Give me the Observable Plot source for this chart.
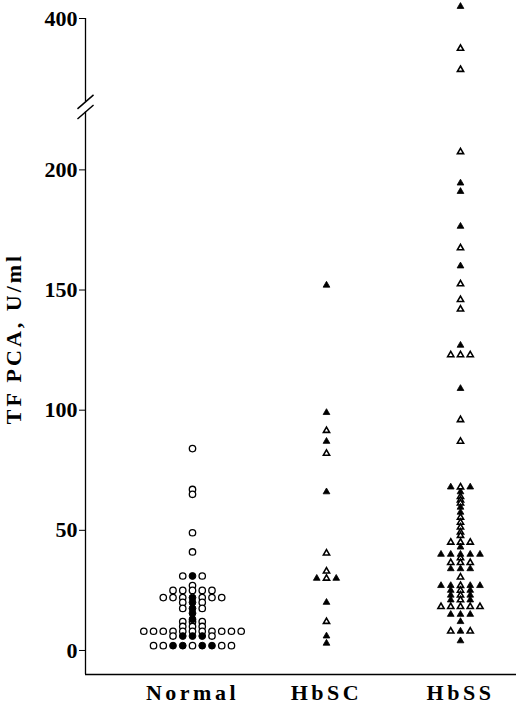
<!DOCTYPE html>
<html>
<head>
<meta charset="utf-8">
<script src="https://cdn.jsdelivr.net/npm/d3@7"></script>
<script src="https://cdn.jsdelivr.net/npm/@observablehq/plot@0.6"></script>
<style>
  html, body { margin: 0; padding: 0; background: #fff; }
  #chart { width: 520px; height: 705px; }
</style>
</head>
<body>
<div id="chart"></div>
<script>
// ---- data ----
const groups = ["Normal", "HbSC", "HbSS"];
const yTitle = "TF PCA, U/ml";
const tickValues = [0, 50, 100, 150, 200, 400];

// rows of each group: value and the markers left-to-right (o = open, f = filled)
const normalRowValue = [84, 67, 65, 49, 41, 31, 27, 25, 22, 20, 17.5, 15.5, 13, 12, 10, 8, 6, 2];
const normalRowMarks = ["o", "o", "o", "o", "o", "ofo", "o", "ooooo", "ooofooo", "ofo", "ofo", "f", "f", "ooo", "ooo", "ooooooooooo", "offfo", "ooffoffoo"];

const scRowValue = [152, 99, 91.5, 87, 82, 66, 40.5, 33, 30, 20, 12, 6, 3];
const scRowMarks = ["f", "f", "o", "f", "o", "f", "o", "o", "fof", "f", "o", "f", "f"];

const ssRowValue = [420, 350, 315, 207.5, 194.5, 191, 176.5, 167.5, 160, 152.5, 146, 142, 127, 123, 109, 96, 87,
  68, 66, 64, 62.6, 61.3, 59.6, 57.5, 55.4, 53.3, 51.3, 49.2, 47.8, 45, 43, 40, 38.5, 36.5, 34, 30.5,
  27, 25, 23, 21, 18.2, 15, 12, 8, 4];
const ssRowMarks = ["f", "o", "o", "o", "f", "f", "f", "o", "f", "o", "o", "o", "f", "ooo", "f", "o", "o",
  "fof", "f", "o", "o", "o", "f", "f", "o", "o", "o", "o", "o", "ooo", "f", "fffff", "o", "ooo", "fff", "o",
  "ffoff", "fof", "fof", "fof", "ooooo", "fff", "f", "ofo", "f"];

// ---- broken axis mapping ----
const LOWER_MAX = 230;      // lower segment runs 0..230
const UPPER_MIN = 260;      // upper segment starts here
const UPPER_AT = 228;       // display position of UPPER_MIN
const UPPER_K = 0.25;       // compression of upper segment
const disp = v => v <= LOWER_MAX ? v : UPPER_AT + (v - UPPER_MIN) * UPPER_K;
const BREAK_MARKS = [224.1, 228.3];

const STEP = 0.0727;        // column spacing within a group (in group units)
const X_MIN = -0.7985, X_MAX = 2.418;
const Y_MIN = -10;

function build(gi, values, marks) {
  const out = [];
  values.forEach((v, r) => {
    const s = marks[r], n = s.length;
    for (let j = 0; j < n; j++) {
      out.push({g: gi, x: gi + (j - (n - 1) / 2) * STEP, y: disp(v), filled: s[j] === "f"});
    }
  });
  return out;
}
const pts = [
  ...build(0, normalRowValue, normalRowMarks),
  ...build(1, scRowValue, scRowMarks),
  ...build(2, ssRowValue, ssRowMarks)
];
const circ = pts.filter(d => d.g === 0);
const tri = pts.filter(d => d.g > 0);

const tickMap = new Map(tickValues.map(t => [disp(t), t]));
const font = "'Liberation Serif', 'Times New Roman', serif";

const chart = Plot.plot({
  width: 520,
  height: 705,
  marginLeft: 85,
  marginRight: 4,
  marginTop: 18,
  marginBottom: 31,
  style: {fontFamily: font, fontWeight: "bold", background: "#fff", color: "#000"},
  x: {type: "linear", domain: [X_MIN, X_MAX], axis: null},
  y: {type: "linear", domain: [Y_MIN, disp(400)], axis: null, label: null},
  marks: [
    // axis lines
    Plot.ruleY([Y_MIN], {stroke: "#000", strokeWidth: 1.4}),
    Plot.ruleX([{y1: Y_MIN, y2: BREAK_MARKS[0]}, {y1: BREAK_MARKS[1], y2: disp(400)}],
      {x: X_MIN, y1: "y1", y2: "y2", stroke: "#000", strokeWidth: 1.3}),
    Plot.link(BREAK_MARKS, {x1: X_MIN - 0.06, x2: X_MIN + 0.06, y1: d => d - 2.9, y2: d => d + 2.9,
      stroke: "#000", strokeWidth: 1.5}),
    Plot.axisY(tickValues.map(disp), {tickFormat: d => tickMap.get(d), tickSize: 6, tickPadding: 2,
      fontSize: 22, fontWeight: "bold", label: null, stroke: "#000"}),
    Plot.axisX([0, 1, 2], {tickFormat: i => groups[i], tickSize: 0, tickPadding: 10,
      fontSize: 22, fontWeight: "bold", label: null}),
    Plot.text([yTitle], {frameAnchor: "left", textAnchor: "middle", lineAnchor: "middle", rotate: -90,
      dx: -72, dy: -8, fontSize: 22, fontWeight: "bold"}),
    // open symbols first, then filled
    Plot.dot(circ.filter(d => !d.filled), {x: "x", y: "y", r: 3.2, symbol: "circle", fill: "#fff", stroke: "#000", strokeWidth: 1.3}),
    Plot.dot(circ.filter(d => d.filled), {x: "x", y: "y", r: 3.4, symbol: "circle", fill: "#000", stroke: "#000", strokeWidth: 1}),
    Plot.dot(tri.filter(d => !d.filled), {x: "x", y: "y", r: 2.3, symbol: "triangle", fill: "#fff", stroke: "#000", strokeWidth: 1.6}),
    Plot.dot(tri.filter(d => d.filled), {x: "x", y: "y", r: 2.5, symbol: "triangle", fill: "#000", stroke: "#000", strokeWidth: 0.8})
  ]
});

const sel = d3.select(chart);
sel.selectAll("g[aria-label='x-axis tick label'] text")
  .attr("font-size", "22px").attr("letter-spacing", "3.5px");
sel.selectAll("g[aria-label='y-axis tick label'] text")
  .attr("font-size", "22px");
sel.selectAll("g[aria-label='text'] text")
  .attr("font-size", "22px").attr("letter-spacing", "3px");
document.getElementById("chart").appendChild(chart);
</script>
</body>
</html>
